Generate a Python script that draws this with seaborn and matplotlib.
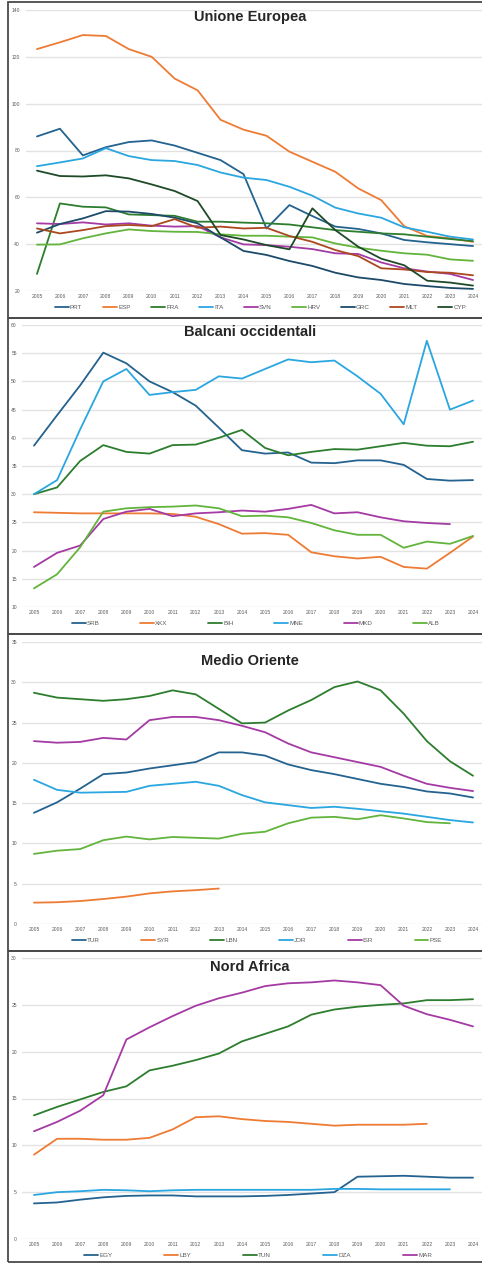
import numpy as np
import pandas as pd
import seaborn as sns
from matplotlib import pyplot as plt
from matplotlib.patches import Rectangle

ANNI = list(range(2005, 2025))
NA = np.nan

# ── Unione Europea ───────────────────────────────────────────────────────────
PRT = [86.0, 89.3, 77.9, 81.4, 83.6, 84.3, 82.1, 79.0, 75.9, 69.9,
       46.7, 56.7, 52.0, 47.5, 46.5, 44.6, 41.8, 40.8, 40.0, 39.2]
ESP = [123.3, 126.2, 129.3, 128.9, 123.3, 120.0, 110.7, 105.7, 93.1, 88.9,
       86.3, 79.5, 75.2, 70.9, 63.8, 58.8, 47.7, 43.5, 42.5, 41.0]
FRA = [27.3, 57.4, 56.0, 55.7, 52.7, 52.4, 52.1, 49.6, 49.6, 49.2,
       48.9, 48.4, 47.2, 46.0, 45.3, 44.6, 44.2, 43.2, 42.2, 41.3]
ITA = [73.3, 74.9, 76.6, 81.0, 77.6, 75.9, 75.5, 73.8, 70.6, 68.4,
       67.4, 64.5, 60.7, 55.6, 53.1, 51.3, 47.2, 45.3, 43.2, 42.0]
SVN = [48.9, 48.6, 49.3, 48.4, 48.9, 47.9, 47.5, 47.7, 42.9, 39.9,
       39.6, 38.9, 37.9, 36.1, 35.8, 32.2, 29.7, 28.3, 27.3, 24.7]
HRV = [39.8, 39.9, 42.5, 44.6, 46.3, 45.6, 45.3, 45.2, 44.2, 43.6,
       43.6, 43.2, 42.9, 40.3, 38.5, 37.2, 36.1, 35.5, 33.5, 32.9]
GRC = [44.9, 48.6, 51.0, 54.1, 53.9, 52.9, 51.3, 48.9, 42.9, 37.1,
       35.4, 32.8, 30.7, 27.8, 25.8, 24.7, 23.0, 22.1, 21.3, 20.9]
MLT = [46.7, 44.6, 46.0, 47.7, 48.2, 47.7, 50.7, 47.0, 47.5, 46.7,
       47.0, 43.5, 41.0, 37.5, 34.9, 29.7, 29.2, 28.1, 27.8, 26.7]
CYP = [71.4, 69.1, 68.9, 69.4, 68.1, 65.5, 62.7, 58.4, 43.9, 42.0,
       39.6, 37.8, 55.3, 46.0, 38.9, 33.8, 31.0, 24.4, 23.6, 22.3]

# ── Balcani occidentali ──────────────────────────────────────────────────────
SRB = [38.6, 44.0, 49.3, 55.1, 53.2, 50.0, 48.1, 45.7, 41.8, 37.8,
       37.2, 37.4, 35.6, 35.5, 36.0, 36.0, 35.2, 32.7, 32.4, 32.5]
XKX = [26.8, 26.7, 26.6, 26.6, 26.6, 26.6, 26.5, 26.0, 24.7, 23.0,
       23.1, 22.8, 19.7, 19.0, 18.6, 18.9, 17.1, 16.8, 19.6, 22.5]
BIH = [30.0, 31.2, 35.9, 38.7, 37.5, 37.2, 38.7, 38.8, 40.0, 41.4,
       38.2, 36.9, 37.5, 38.0, 37.9, 38.5, 39.1, 38.6, 38.5, 39.3]
MNE = [30.0, 32.5, 41.5, 50.0, 52.2, 47.6, 48.1, 48.5, 50.9, 50.5,
       52.2, 53.9, 53.4, 53.7, 50.9, 47.8, 42.4, 57.2, 45.0, 46.6]
MKD = [17.1, 19.6, 20.9, 25.6, 26.9, 27.4, 26.1, 26.6, 26.8, 27.1,
       26.9, 27.4, 28.1, 26.6, 26.8, 25.9, 25.2, 24.9, 24.7, NA]
ALB = [13.3, 15.8, 20.6, 26.9, 27.5, 27.7, 27.8, 28.0, 27.5, 26.1,
       26.2, 25.9, 24.9, 23.6, 22.8, 22.8, 20.5, 21.6, 21.2, 22.6]

# ── Medio Oriente ────────────────────────────────────────────────────────────
TUR = [13.8, 15.1, 16.8, 18.6, 18.8, 19.3, 19.7, 20.1, 21.3, 21.3,
       20.9, 19.8, 19.1, 18.6, 18.0, 17.4, 17.0, 16.45, 16.2, 15.7]
SYR = [2.65, 2.7, 2.85, 3.1, 3.4, 3.8, 4.05, 4.2, 4.4, NA,
       NA, NA, NA, NA, NA, NA, NA, NA, NA, NA]
LBN = [28.7, 28.1, 27.9, 27.7, 27.9, 28.3, 29.0, 28.5, 26.7, 24.9,
       25.0, 26.5, 27.8, 29.4, 30.1, 29.0, 26.1, 22.7, 20.2, 18.4]
JOR = [17.9, 16.65, 16.3, 16.35, 16.4, 17.15, 17.4, 17.65, 17.15, 16.0,
       15.1, 14.75, 14.4, 14.55, 14.3, 14.0, 13.7, 13.3, 12.9, 12.6]
ISR = [22.7, 22.5, 22.6, 23.1, 22.9, 25.3, 25.7, 25.7, 25.3, 24.6,
       23.8, 22.4, 21.3, 20.7, 20.1, 19.5, 18.4, 17.4, 16.9, 16.5]
PSE = [8.7, 9.1, 9.3, 10.4, 10.85, 10.5, 10.8, 10.7, 10.6, 11.2,
       11.45, 12.5, 13.2, 13.3, 13.0, 13.5, 13.1, 12.65, 12.5, NA]

# ── Nord Africa ──────────────────────────────────────────────────────────────
EGY = [3.8, 3.9, 4.2, 4.45, 4.6, 4.65, 4.65, 4.55, 4.55, 4.55,
       4.6, 4.7, 4.85, 5.0, 6.65, 6.7, 6.75, 6.65, 6.55, 6.55]
LBY = [9.0, 10.7, 10.7, 10.6, 10.6, 10.8, 11.7, 13.0, 13.1, 12.8,
       12.6, 12.5, 12.3, 12.1, 12.2, 12.2, 12.2, 12.3, NA, NA]
TUN = [13.2, 14.1, 14.9, 15.7, 16.3, 18.0, 18.5, 19.1, 19.8, 21.1,
       21.9, 22.7, 23.95, 24.5, 24.8, 25.0, 25.15, 25.5, 25.5, 25.6]
DZA = [4.7, 5.0, 5.1, 5.25, 5.2, 5.1, 5.2, 5.25, 5.25, 5.25,
       5.25, 5.25, 5.25, 5.35, 5.35, 5.3, 5.3, 5.3, 5.3, NA]
MAR = [11.5, 12.5, 13.7, 15.35, 21.3, 22.6, 23.8, 24.9, 25.7, 26.3,
       27.0, 27.3, 27.4, 27.6, 27.4, 27.1, 24.9, 24.0, 23.4, 22.7]

C_BLU = '#24628f'
C_ARA = '#ee7b34'
C_VER = '#2d7d2f'
C_AZZ = '#2aa6e0'
C_VIO = '#a43aa4'
C_VCH = '#62b43c'
C_NAV = '#1c4a68'
C_MAR = '#ab481e'
C_VSC = '#1e4a28'

W, H = 482, 1263

PANELS = [
    dict(title='Unione Europea', title_y=17.5,
         series={'PRT': PRT, 'ESP': ESP, 'FRA': FRA, 'ITA': ITA, 'SVN': SVN,
                 'HRV': HRV, 'GRC': GRC, 'MLT': MLT, 'CYP': CYP},
         colors=[C_BLU, C_ARA, C_VER, C_AZZ, C_VIO, C_VCH, C_NAV, C_MAR, C_VSC],
         ylim=(20, 140), step=20, box=(25.5, 10, 484.5, 291),
         frame=(2, 318), legend=(55, 466, 307.7)),
    dict(title='Balcani occidentali', title_y=331.7,
         series={'SRB': SRB, 'XKX': XKX, 'BIH': BIH, 'MNE': MNE, 'MKD': MKD, 'ALB': ALB},
         colors=[C_BLU, C_ARA, C_VER, C_AZZ, C_VIO, C_VCH],
         ylim=(10, 60), step=5, box=(22.4, 325, 484.6, 607),
         frame=(318, 634), legend=(72, 440, 623)),
    dict(title='Medio Oriente', title_y=660.7,
         series={'TUR': TUR, 'SYR': SYR, 'LBN': LBN, 'JOR': JOR, 'ISR': ISR, 'PSE': PSE},
         colors=[C_BLU, C_ARA, C_VER, C_AZZ, C_VIO, C_VCH],
         ylim=(0, 35), step=5, box=(22.4, 642, 484.6, 924),
         frame=(634, 951), legend=(72, 442, 940)),
    dict(title='Nord Africa', title_y=967.3,
         series={'EGY': EGY, 'LBY': LBY, 'TUN': TUN, 'DZA': DZA, 'MAR': MAR},
         colors=[C_BLU, C_ARA, C_VER, C_AZZ, C_VIO],
         ylim=(0, 30), step=5, box=(22.4, 958, 484.6, 1239),
         frame=(951, 1262), legend=(84, 432, 1255)),
]

sns.set_style('white')
plt.rcParams['font.family'] = ['Liberation Sans', 'DejaVu Sans']

fig = plt.figure(figsize=(W / 100, H / 100), dpi=100)

for p in PANELS:
    # cornice del pannello
    y0, y1 = p['frame']
    fig.patches.append(Rectangle((8 / W, 1 - y1 / H), (W + 10) / W, (y1 - y0) / H,
                                 transform=fig.transFigure, fill=False,
                                 edgecolor='#4a4a4a', lw=1.3, zorder=0))

    l, t, r, b = p['box']
    ax = fig.add_axes([l / W, 1 - b / H, (r - l) / W, (b - t) / H])

    names = list(p['series'].keys())
    df = pd.DataFrame({
        'anno': np.tile(ANNI, len(names)),
        'valore': np.concatenate([p['series'][n] for n in names]),
        'paese': np.repeat(names, len(ANNI)),
    }).dropna()

    sns.lineplot(data=df, x='anno', y='valore', hue='paese', hue_order=names,
                 palette=dict(zip(names, p['colors'])), estimator=None,
                 errorbar=None, linewidth=1.3, ax=ax)

    ax.set_xlim(2004.5, 2024.5)
    ax.set_ylim(*p['ylim'])
    ax.set_xticks(ANNI)
    ax.set_yticks(np.arange(p['ylim'][0], p['ylim'][1] + 0.1, p['step']))
    ax.grid(axis='y', color='#e2e2e2', lw=1.0)
    ax.grid(axis='x', visible=False)
    ax.set_axisbelow(True)
    for s in ax.spines.values():
        s.set_visible(False)
    ax.tick_params(axis='both', length=0, labelsize=3.6, labelcolor='#595959')
    ax.tick_params(axis='x', pad=2.5)
    ax.tick_params(axis='y', pad=4)
    ax.set_xlabel('')
    ax.set_ylabel('')

    handles, labels = ax.get_legend_handles_labels()
    ax.get_legend().remove()
    lx0, lx1, ly = p['legend']
    fig.legend(handles, labels, loc='center', ncol=len(names), mode='expand',
               bbox_to_anchor=(lx0 / W, 1 - (ly + 5) / H, (lx1 - lx0) / W, 10 / H),
               bbox_transform=fig.transFigure, frameon=False, fontsize=4.5,
               handlelength=2.2, handletextpad=0.2, borderaxespad=0, borderpad=0,
               labelcolor='#595959')

    fig.text(250 / W, 1 - p['title_y'] / H, p['title'], ha='center', va='center',
             fontsize=10.5, fontweight='bold', color='#262626')

fig.savefig('out.png', dpi=100)
